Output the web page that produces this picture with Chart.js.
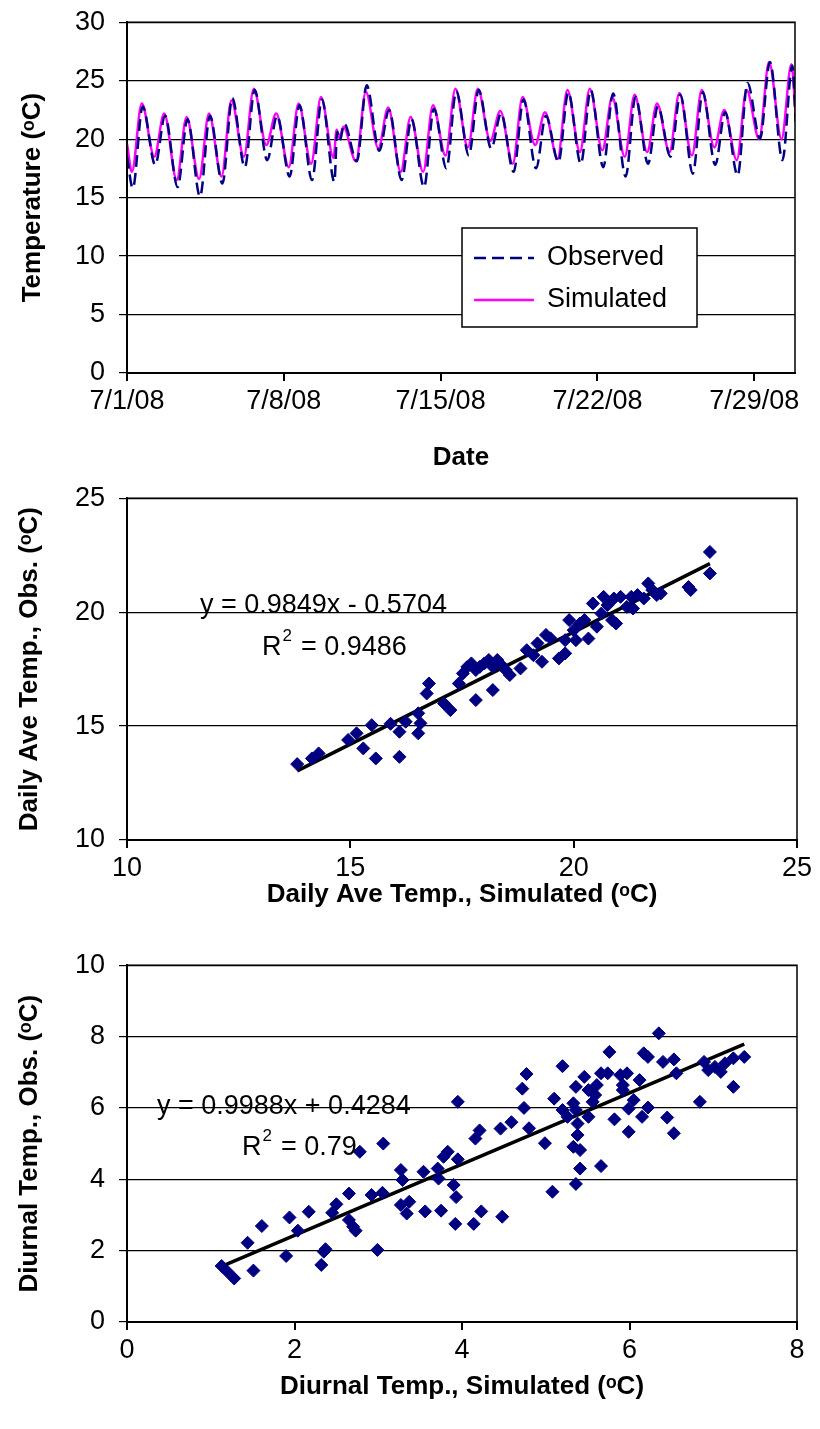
<!DOCTYPE html>
<html>
<head>
<meta charset="utf-8">
<script src="https://cdn.jsdelivr.net/npm/chart.js@4/dist/chart.umd.min.js"></script>
<style>
  body { margin: 0; background: #fff; overflow: hidden; }
  .wrap { position: absolute; left: 0; width: 820px; }
  canvas { display: block; }
</style>
</head>
<body>
<div class="wrap" style="top:-8px;height:483px"><canvas id="c1"></canvas></div>
<div class="wrap" style="top:468px;height:482px"><canvas id="c2"></canvas></div>
<div class="wrap" style="top:935px;height:494px"><canvas id="c3"></canvas></div>
<script>
// ---- panel 1: hourly temperature, one low/high per day (day index from 7/1/08)
const dateTicks = [0, 7, 14, 21, 28];
const tempTicks = [0, 5, 10, 15, 20, 25, 30];
const simLow  = [17.2,18.5,16.5,16.6,16.8,18.5,19.5,17.6,17.9,18.4,18.1,19.2,17.2,17.2,18.6,19.3,19.85,17.9,19.5,18.3,18.9,19.05,18.5,18.9,18.9,18.6,19.3,18.2,20.0,20.0];
const simHigh = [23.05,22.2,21.9,22.2,23.3,24.3,22.2,23.05,23.6,21.05,24.05,22.7,21.9,22.9,24.3,24.3,22.4,23.6,22.3,24.2,24.3,23.6,23.8,23.05,23.95,24.2,22.5,24.2,26.6,26.4];
const obsLow  = [15.8,17.8,15.9,15.1,16.2,17.6,18.2,16.8,16.5,16.35,18.1,19.0,16.5,15.9,17.5,18.6,19.2,17.2,17.5,18.05,17.9,17.6,16.8,17.9,18.5,17.05,17.8,16.9,20.05,18.2];
const obsHigh = [22.8,22.0,21.7,22.0,23.5,24.2,22.0,22.9,23.4,21.3,24.6,22.5,21.7,22.6,24.1,24.2,22.2,23.4,22.0,24.0,24.2,23.9,23.6,22.8,23.8,24.0,22.3,24.8,26.6,26.3];
const simEnds = [[0, 19.6], [29.85, 22.2], [9.36, 20.8], [9.48, 20.1]];
const obsEnds = [[0, 18.5], [29.85, 21.5], [9.38, 20.6], [9.5, 19.9]];

// ---- panel 2: daily average (simulated, observed)
const dailySim = [13.81,14.14,14.29,14.95,15.14,15.29,15.48,15.57,15.9,16.1,16.1,16.24,16.52,16.57,16.52,16.76,16.71,17.1,17.24,17.43,17.52,17.62,17.71,17.81,17.9,17.81,18.0,18.1,18.19,18.29,18.38,18.48,18.57,18.19,18.81,18.95,19.1,19.19,19.29,19.38,19.48,19.67,19.81,19.81,19.9,20.0,20.05,20.14,20.24,20.33,20.43,20.52,20.62,20.67,20.76,20.86,20.95,20.9,21.05,21.19,21.29,21.33,21.43,21.57,21.67,21.76,21.86,21.95,22.62,22.57,23.05,23.05];
const dailyObs = [13.33,13.58,13.8,14.39,14.68,14.02,15.04,13.58,15.1,14.75,13.65,15.19,15.56,15.12,14.68,16.87,16.43,15.99,15.7,16.87,17.31,17.6,17.75,17.46,17.6,16.14,17.75,17.9,17.6,17.9,17.68,17.46,17.24,16.58,17.53,18.33,18.11,18.63,17.82,19.0,18.85,17.97,18.19,18.77,19.65,19.21,18.77,19.5,19.65,18.84,20.38,19.36,19.94,20.67,20.31,19.65,19.5,20.6,20.67,20.23,20.67,20.16,20.75,20.6,21.26,20.97,20.75,20.82,20.97,21.1,22.64,21.7];
const dailyFit = { slope: 0.9849, icpt: -0.5704, r2: '0.9486' };

// ---- panel 3: diurnal range (simulated, observed)
const diurnalSim = [1.13,1.2,1.28,1.51,1.44,1.61,1.9,1.94,2.04,2.17,2.32,2.35,2.37,2.45,2.5,2.65,2.65,2.7,2.73,2.92,3.05,2.99,2.78,3.06,3.27,3.29,3.27,3.37,3.34,3.54,3.56,3.71,3.72,3.75,3.78,3.83,3.9,3.93,3.92,3.95,3.95,4.14,4.16,4.21,4.23,4.46,4.59,4.48,4.72,4.77,4.74,4.8,4.99,5.08,5.1,5.2,5.2,5.26,5.33,5.36,5.36,5.38,5.38,5.33,5.41,5.41,5.36,5.46,5.51,5.51,5.56,5.59,5.61,5.66,5.66,5.74,5.76,5.82,5.89,5.92,5.92,5.97,5.99,5.99,6.05,6.12,6.15,6.17,6.22,6.22,6.35,6.4,6.45,6.53,6.53,6.56,6.84,6.89,6.94,7.02,7.09,7.14,7.24,7.24,7.37];
const diurnalObs = [1.57,1.41,1.22,1.44,2.22,2.69,1.85,2.93,2.56,3.09,1.6,1.97,2.04,3.06,3.3,3.6,2.86,2.67,2.56,3.56,3.62,2.02,4.77,5.0,4.26,3.98,3.28,3.37,3.04,4.21,3.1,4.3,4.02,3.12,4.63,4.77,3.84,3.5,2.75,6.17,4.56,2.75,5.14,5.37,3.1,5.42,5.6,2.95,6.54,6.95,6.0,5.43,5.01,3.65,6.26,7.17,5.94,5.75,6.13,6.59,5.94,5.56,5.24,4.91,4.82,4.3,3.87,6.87,6.5,5.75,6.17,6.36,6.64,6.97,4.37,6.97,7.57,5.68,6.92,6.64,6.5,6.97,5.98,5.33,6.22,6.78,5.75,7.53,7.43,6.01,8.09,7.29,5.73,7.36,5.29,6.97,6.17,7.29,7.06,7.15,7.01,7.25,7.39,6.59,7.43];
const diurnalFit = { slope: 0.9988, icpt: 0.4284, r2: '0.79' };

const NAVY = '#000080';
const FONT = '"Liberation Sans", Arial, sans-serif';
Chart.defaults.font.family = FONT;
Chart.defaults.color = '#000';

function series(lows, highs, extra, tLow, tHigh) {
  const pts = extra.map(p => ({ x: p[0], y: p[1] }));
  lows.forEach((v, d) => pts.push({ x: d + tLow, y: v }));
  highs.forEach((v, d) => pts.push({ x: d + tHigh, y: v }));
  return pts.sort((a, b) => a.x - b.x);
}

function zip(xs, ys) { return xs.map((x, i) => ({ x: x, y: ys[i] })); }

function fitLine(xs, fit) {
  const lo = Math.min(...xs), hi = Math.max(...xs);
  return [{ x: lo, y: fit.slope * lo + fit.icpt }, { x: hi, y: fit.slope * hi + fit.icpt }];
}

function axis(min, max, ticks, title, isX, yW, xH, cb) {
  return {
    type: 'linear', min: min, max: max,
    afterBuildTicks: s => { s.ticks = ticks.map(v => ({ value: v })); },
    afterFit: s => { if (isX) s.height = xH; else s.width = yW; },
    border: { color: '#000', width: 2 },
    grid: isX
      ? { drawOnChartArea: false, color: '#000', tickLength: 8, lineWidth: 2 }
      : { color: '#000', tickLength: 8, lineWidth: 1.2 },
    ticks: { font: { size: 27 }, padding: isX ? 4 : 14, color: '#000', callback: cb || (v => v) },
    title: { display: true, text: title, font: { size: 26, weight: 'bold' }, padding: 0 }
  };
}

const frame = {
  id: 'frame',
  afterDatasetsDraw(chart, args, opts) {
    const { ctx, chartArea: a } = chart;
    ctx.save();
    ctx.strokeStyle = '#000';
    ctx.lineWidth = 1.5;
    ctx.strokeRect(a.left, a.top, a.right - a.left, a.bottom - a.top);
    ctx.fillStyle = '#000';
    ctx.font = '27px ' + FONT;
    ctx.textBaseline = 'middle';
    (opts.notes || []).forEach(n => {
      ctx.fillText(n.text, n.x, n.y);
      if (n.sup) {
        const w = ctx.measureText(n.text).width;
        ctx.font = '17px ' + FONT;
        ctx.fillText(n.sup, n.x + w + 1, n.y - 12);
        ctx.font = '27px ' + FONT;
        ctx.fillText(n.rest, n.x + w + 12, n.y);
      }
    });
    if (opts.legend) {
      const L = opts.legend;
      ctx.fillStyle = '#fff';
      ctx.fillRect(L.x, L.y, L.w, L.h);
      ctx.lineWidth = 1.5;
      ctx.strokeRect(L.x, L.y, L.w, L.h);
      chart.data.datasets.forEach((ds, i) => {
        const y = L.y + 30 + i * 42;
        ctx.strokeStyle = ds.borderColor;
        ctx.lineWidth = 2.5;
        ctx.setLineDash(ds.borderDash || []);
        ctx.beginPath(); ctx.moveTo(L.x + 12, y); ctx.lineTo(L.x + 72, y); ctx.stroke();
        ctx.setLineDash([]);
        ctx.fillStyle = '#000';
        ctx.fillText(ds.label, L.x + 85, y);
      });
    }
    ctx.restore();
  }
};

new Chart(document.getElementById('c1'), {
  type: 'line',
  data: {
    datasets: [
      { label: 'Observed', data: series(obsLow, obsHigh, obsEnds, 0.26, 0.7), borderColor: NAVY, borderDash: [12, 6], borderWidth: 2.5, pointRadius: 0, cubicInterpolationMode: 'monotone' },
      { label: 'Simulated', data: series(simLow, simHigh, simEnds, 0.22, 0.66), borderColor: '#FF00FF', borderWidth: 2.5, pointRadius: 0, cubicInterpolationMode: 'monotone' }
    ]
  },
  options: {
    responsive: true, maintainAspectRatio: false, animation: false,
    layout: { padding: { top: 14, right: 25, bottom: 2, left: 17 } },
    plugins: { legend: { display: false }, tooltip: { enabled: false },
      frame: { legend: { x: 462, y: 236, w: 235, h: 99 } } },
    scales: {
      x: axis(0, 29.82, dateTicks, 'Date', true, 110, 100, v => '7/' + (v + 1) + '/08'),
      y: axis(0, 30, tempTicks, 'Temperature (ᵒC)', false, 110, 100)
    }
  },
  plugins: [frame]
});

function scatter(id, xs, ys, fit, xr, yr, xt, yt, xTitle, yTitle, padBottom, xH, notes) {
  new Chart(document.getElementById(id), {
    type: 'scatter',
    data: {
      datasets: [
        { data: zip(xs, ys), pointStyle: 'rectRot', pointRadius: 6.5, backgroundColor: NAVY, borderColor: NAVY },
        { type: 'line', data: fitLine(xs, fit), borderColor: '#000', borderWidth: 3.5, pointRadius: 0 }
      ]
    },
    options: {
      responsive: true, maintainAspectRatio: false, animation: false,
      layout: { padding: { top: 0, right: 23, bottom: padBottom, left: 14 } },
      plugins: { legend: { display: false }, tooltip: { enabled: false }, frame: { notes: notes } },
      scales: {
        x: axis(xr[0], xr[1], xt, xTitle, true, 113, xH),
        y: axis(yr[0], yr[1], yt, yTitle, false, 113, xH)
      }
    },
    plugins: [frame]
  });
}

// note positions are canvas-relative
scatter('c2', dailySim, dailyObs, dailyFit, [10, 25], [10, 25], [10, 15, 20, 25], [10, 15, 20, 25],
  'Daily Ave Temp., Simulated (ᵒC)', 'Daily Ave Temp., Obs. (ᵒC)', 40, 70,
  [{ text: 'y = 0.9849x - 0.5704', x: 200, y: 138 }, { text: 'R', sup: '2', rest: ' = ' + dailyFit.r2, x: 262, y: 180 }]);

scatter('c3', diurnalSim, diurnalObs, diurnalFit, [0, 8], [0, 10], [0, 2, 4, 6, 8], [0, 2, 4, 6, 8, 10],
  'Diurnal Temp., Simulated (ᵒC)', 'Diurnal Temp., Obs. (ᵒC)', 27, 80,
  [{ text: 'y = 0.9988x + 0.4284', x: 157, y: 172 }, { text: 'R', sup: '2', rest: ' = ' + diurnalFit.r2, x: 242, y: 213 }]);
</script>
</body>
</html>
